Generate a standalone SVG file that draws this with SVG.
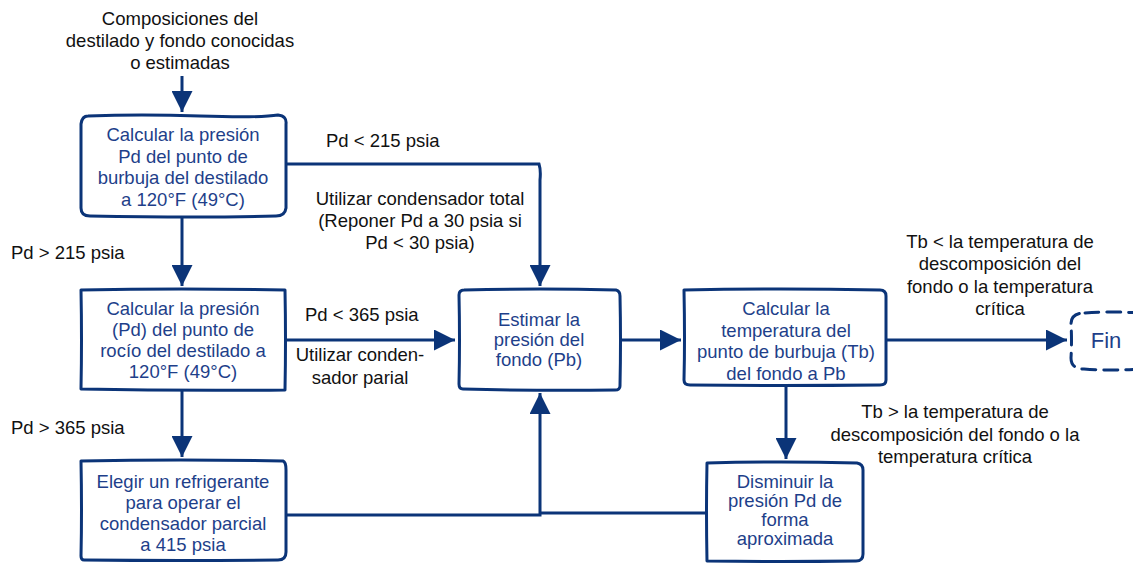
<svg xmlns="http://www.w3.org/2000/svg" width="1133" height="565" viewBox="0 0 1133 565">
<defs>
<marker id="ah" viewBox="0 0 10 10" refX="10" refY="5" markerWidth="7" markerHeight="7" markerUnits="strokeWidth" orient="auto">
<path d="M0,0 L10,5 L0,10 Z" fill="#0b3478"/>
</marker>
<style>
.box{fill:#fff;stroke:#0b3478;stroke-width:3;stroke-linejoin:round}
.fin{fill:#fff;stroke:#0b3478;stroke-width:3;stroke-dasharray:14 8;stroke-linecap:round}
.line{fill:none;stroke:#0b3478;stroke-width:3}
.nt{font-family:"Liberation Sans",Arial,sans-serif;font-size:18.5px;fill:#1e3f8a;text-anchor:middle}
.lb{font-family:"Liberation Sans",Arial,sans-serif;font-size:18.5px;fill:#111;text-anchor:middle}
.ll{font-family:"Liberation Sans",Arial,sans-serif;font-size:18.5px;fill:#111}
</style>
</defs>
<rect width="1133" height="565" fill="#fff"/>

<g id="connectors">
<path class="line" d="M182,76 L182,112" marker-end="url(#ah)"/>
<path class="line" d="M182,218 L182,286" marker-end="url(#ah)"/>
<path class="line" d="M182,389 L182,457" marker-end="url(#ah)"/>
<path class="line" d="M286,164 L539,164 Q541,170 540,180 L540,286" marker-end="url(#ah)"/>
<path class="line" d="M286,340 L455,340" marker-end="url(#ah)"/>
<path class="line" d="M286,515 L540,515 L540,393" marker-end="url(#ah)"/>
<path class="line" d="M706,513 L540,513"/>
<path class="line" d="M620,340 L681,340" marker-end="url(#ah)"/>
<path class="line" d="M886,340 L1067,340" marker-end="url(#ah)"/>
<path class="line" d="M786,386 L786,459" marker-end="url(#ah)"/>
</g>

<g id="labels">
<text class="lb" x="180" y="25">Composiciones del</text>
<text class="lb" x="180" y="47">destilado y fondo conocidas</text>
<text class="lb" x="180" y="69">o estimadas</text>
<text class="ll" x="326" y="147">Pd &lt; 215 psia</text>
<text class="lb" x="420" y="205">Utilizar condensador total</text>
<text class="lb" x="420" y="227">(Reponer Pd a 30 psia si</text>
<text class="lb" x="420" y="249">Pd &lt; 30 psia)</text>
<text class="ll" x="11" y="259">Pd &gt; 215 psia</text>
<text class="ll" x="305" y="321">Pd &lt; 365 psia</text>
<text class="lb" x="360" y="361">Utilizar conden-</text>
<text class="lb" x="360" y="384">sador parial</text>
<text class="ll" x="11" y="434">Pd &gt; 365 psia</text>
<text class="lb" x="1000" y="248">Tb &lt; la temperatura de</text>
<text class="lb" x="1000" y="270">descomposición del</text>
<text class="lb" x="1000" y="293">fondo o la temperatura</text>
<text class="lb" x="1000" y="315">crítica</text>
<text class="lb" x="955" y="418">Tb &gt; la temperatura de</text>
<text class="lb" x="955" y="441">descomposición del fondo o la</text>
<text class="lb" x="955" y="463">temperatura crítica</text>
</g>

<g id="n1">
<path class="box" d="M88,116 Q140,114 200,116 T278,115 Q287,116 286,124 L286,208 Q285,216 276,216 Q200,218 90,216 Q81,216 81,208 L81,124 Q82,116 88,116 Z"/>
<text class="nt" x="183" y="141">Calcular la presión</text>
<text class="nt" x="183" y="162.5">Pd del punto de</text>
<text class="nt" x="183" y="184">burbuja del destilado</text>
<text class="nt" x="183" y="205.5">a 120°F (49°C)</text>
</g>

<g id="n2">
<path class="box" d="M81,290 Q180,288 285,290 Q286,340 285,390 Q180,391 81,389 Q82,340 81,290 Z"/>
<text class="nt" x="183" y="315">Calcular la presión</text>
<text class="nt" x="183" y="336">(Pd) del punto de</text>
<text class="nt" x="183" y="357">rocío del destilado a</text>
<text class="nt" x="183" y="378">120°F (49°C)</text>
</g>

<g id="n3">
<path class="box" d="M81,461 Q180,459 283,461 Q286,462 286,470 L286,552 Q286,560 278,560 Q180,561 84,560 Q81,560 81,556 Q82,510 81,461 Z"/>
<text class="nt" x="183" y="488">Elegir un refrigerante</text>
<text class="nt" x="183" y="509">para operar el</text>
<text class="nt" x="183" y="530">condensador parcial</text>
<text class="nt" x="183" y="551">a 415 psia</text>
</g>

<g id="n4">
<path class="box" d="M464,290 Q540,288 616,290 Q620,291 620,296 Q621,340 620,386 Q620,390 615,390 Q540,391 463,389 Q459,389 459,384 Q460,340 459,295 Q459,290 464,290 Z"/>
<text class="nt" x="539" y="326">Estimar la</text>
<text class="nt" x="539" y="346">presión del</text>
<text class="nt" x="539" y="366">fondo (Pb)</text>
</g>

<g id="n5">
<path class="box" d="M684,290 Q780,288 880,290 Q886,290 886,296 L886,380 Q886,385 880,385 Q780,386 690,385 Q684,385 684,380 Q685,340 684,290 Z"/>
<text class="nt" x="786" y="315">Calcular la</text>
<text class="nt" x="786" y="337">temperatura del</text>
<text class="nt" x="786" y="358">punto de burbuja (Tb)</text>
<text class="nt" x="786" y="380">del fondo a Pb</text>
</g>

<g id="n6">
<path class="box" d="M707,463 Q780,461 857,463 Q863,464 863,470 L863,554 Q863,561 856,561 Q780,562 707,561 Q706,510 707,463 Z"/>
<text class="nt" x="785" y="488">Disminuir la</text>
<text class="nt" x="785" y="507">presión Pd de</text>
<text class="nt" x="785" y="526">forma</text>
<text class="nt" x="785" y="545">aproximada</text>
</g>

<g id="fin">
<path class="fin" d="M1085,313 Q1110,311 1140,313 M1140,369 Q1110,371 1084,369 Q1071,369 1071,358 Q1072,340 1071,324 Q1071,313 1085,313"/>
<text class="nt" x="1106" y="348" style="font-size:22px">Fin</text>
</g>
</svg>
